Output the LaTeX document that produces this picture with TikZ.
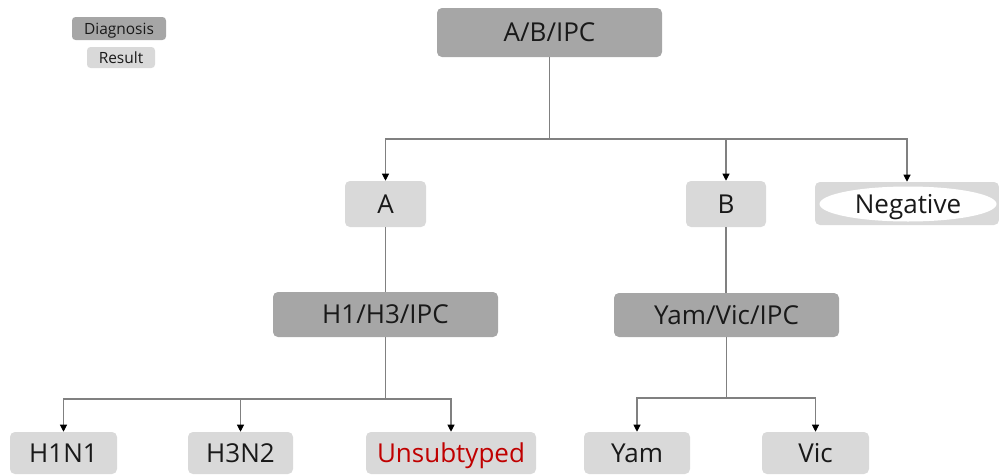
\documentclass[tikz,border=0pt]{standalone}
\usepackage{fontspec}
\setmainfont{Open Sans}
\usepackage{xcolor}
\definecolor{DiagGray}{HTML}{A6A6A6}
\definecolor{ResGray}{HTML}{D9D9D9}
\definecolor{LineGray}{HTML}{808080}
\definecolor{DarkRed}{HTML}{C00000}
\usepackage{tikz}
\usetikzlibrary{calc, arrows.meta, positioning, shapes.geometric}
\newlength\pxu
\setlength\pxu{0.025cm}

\begin{document}
\begin{tikzpicture}[x=\pxu, y=-\pxu,
    box/.style={rounded corners=3.5pt, inner sep=0pt, text=black!90,
      font=\fontsize{18.5}{22}\selectfont, text height=13.3pt, text depth=0pt},
    diag/.style={box, fill=DiagGray},
    res/.style={box, fill=ResGray},
    legend/.style={font=\fontsize{11}{13}\selectfont, text height=7.9pt, rounded corners=2.5pt},
    wire/.style={LineGray, line width=0.75pt},
    arr/.style={wire, -{Triangle[width=5pt, length=5pt, color=black]}}]
  \useasboundingbox (0,0) rectangle (999,474);
  % legend
  \node[diag, legend, minimum width=94*\pxu, minimum height=23*\pxu] (legdiag) at (119,28.5) {Diagnosis};
  \node[res, legend, minimum width=68*\pxu, minimum height=21*\pxu] (legres) at (121,57.5) {Result};
  % first level
  \node[diag, minimum width=225*\pxu, minimum height=49*\pxu] (abipc) at (549.5,32.5) {A/B/IPC};
  \node[res, minimum width=81*\pxu, minimum height=46*\pxu] (nodea) at (385.5,204) {A};
  \node[res, minimum width=80*\pxu, minimum height=46*\pxu] (nodeb) at (726,204) {B};
  \node[res, minimum width=184*\pxu, minimum height=43*\pxu] (neg) at (907,203.5) {};
  \node[box, ellipse, fill=white, minimum width=177*\pxu, minimum height=35*\pxu] (negtext) at (908,204) {Negative};
  \coordinate (split1) at (549.5,139);
  \draw[wire] (abipc) -- (split1);
  \draw[arr] (split1) -| (nodea);
  \draw[arr] (split1) -| (nodeb);
  \draw[arr] (split1) -| (neg);
  % second level
  \node[diag, minimum width=225*\pxu, minimum height=45*\pxu] (h1h3) at (385.5,314.5) {H1/H3/IPC};
  \node[diag, minimum width=225*\pxu, minimum height=44*\pxu] (yamvic) at (726.5,315) {Yam/Vic/IPC};
  \draw[wire] (nodea) -- (h1h3);
  \draw[wire] (nodeb) -- (nodeb |- yamvic.north);
  % results
  \node[res, minimum width=107*\pxu, minimum height=42*\pxu] (h1n1) at (63.5,453) {H1N1};
  \node[res, minimum width=105*\pxu, minimum height=42*\pxu] (h3n2) at (240.5,453) {H3N2};
  \node[res, minimum width=170*\pxu, minimum height=42*\pxu, text=DarkRed] (unsub) at (451,453) {Unsubtyped};
  \node[res, minimum width=106*\pxu, minimum height=42*\pxu] (yam) at (637,453) {Yam};
  \node[res, minimum width=107*\pxu, minimum height=42*\pxu] (vic) at (815.5,453) {Vic};
  \coordinate (split2) at (385.5,399);
  \coordinate (split3) at (726.5,398);
  \draw[wire] (h1h3) -- (split2);
  \draw[arr] (split2) -| (h1n1);
  \draw[arr] (split2) -| (h3n2);
  \draw[arr] (split2) -| (unsub);
  \draw[wire] (yamvic) -- (split3);
  \draw[arr] (split3) -| (yam);
  \draw[arr] (split3) -| (vic);
\end{tikzpicture}
\end{document}
